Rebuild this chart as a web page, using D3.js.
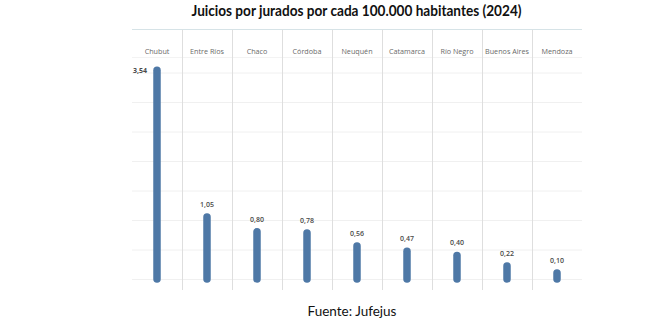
<!DOCTYPE html>
<html><head><meta charset="utf-8">
<script src="https://cdn.jsdelivr.net/npm/d3@7"></script>
<style>body{margin:0;background:#fff;} svg{display:block;}</style>
</head><body>
<svg id="chart" width="672" height="335"></svg>
<script>
const categories = ["Chubut","Entre Ríos","Chaco","Córdoba","Neuquén","Catamarca","Río Negro","Buenos Aires","Mendoza"];
const values = [3.54,1.05,0.80,0.78,0.56,0.47,0.40,0.22,0.10];
const gridTicks = [0,0.5,1,1.5,2,2.5,3,3.5];
const title = "Juicios por jurados por cada 100.000 habitantes (2024)";
const source = "Fuente: Jufejus";

(function(){
const svg = d3.select("#chart");
const left = 132, right = 582, topY = 29.5, headerY = 54, bottomLine = 290;
const x = d3.scaleBand().domain(categories).range([left, right]).padding(0);
const y = d3.scaleLinear().domain([0, 3.5]).range([279, 72.5]);
const fmt = d3.formatLocale({decimal: ",", thousands: ".", grouping: [3], currency: ["$",""]}).format(".2f");

// title
svg.append("text").attr("x", 356.5).attr("y", 16).attr("text-anchor","middle")
  .attr("font-family","Lato, 'Open Sans', sans-serif").attr("font-weight","bold").attr("font-size",14.5)
  .attr("fill","#111").attr("textLength",330).attr("lengthAdjust","spacingAndGlyphs").text(title);

// horizontal gridlines
const gAxis = svg.append("g").attr("transform", `translate(${left},0)`)
  .call(d3.axisLeft(y).tickValues(gridTicks).tickSize(-(right-left)).tickFormat(""));
gAxis.select(".domain").remove();
gAxis.selectAll(".tick line").attr("stroke","#f0f0f0").attr("stroke-width",1);

// top border line and header separator
svg.append("line").attr("x1",left).attr("x2",right).attr("y1",topY).attr("y2",topY)
  .attr("stroke","#d6e3e7").attr("stroke-width",1);
svg.append("line").attr("x1",left).attr("x2",right).attr("y1",57.5).attr("y2",57.5)
  .attr("stroke","#f3f3f3").attr("stroke-width",1);

// vertical dividers
svg.append("g").selectAll("line").data(categories.slice(1)).join("line")
  .attr("x1", d => Math.round(x(d)) + 0.5).attr("x2", d => Math.round(x(d)) + 0.5)
  .attr("y1", topY).attr("y2", bottomLine)
  .attr("stroke","#dedede").attr("stroke-width",1);

// header labels
svg.append("g").selectAll("text").data(categories).join("text")
  .attr("x", d => x(d) + x.bandwidth()/2).attr("y", headerY)
  .attr("text-anchor","middle").attr("font-family","'Open Sans', sans-serif")
  .attr("font-size",7.2).attr("fill","#6a6a6a").text(d => d);

// bars (rounded lines)
svg.append("g").selectAll("line").data(values).join("line")
  .attr("x1", (d,i) => x(categories[i]) + x.bandwidth()/2)
  .attr("x2", (d,i) => x(categories[i]) + x.bandwidth()/2)
  .attr("y1", y(0)).attr("y2", d => y(d))
  .attr("stroke","#4e78a6").attr("stroke-width",7.5).attr("stroke-linecap","round");

// value labels
svg.append("g").selectAll("text").data(values).join("text")
  .attr("x", (d,i) => i === 0 ? x(categories[i]) + 15 : x(categories[i]) + x.bandwidth()/2)
  .attr("y", (d,i) => i === 0 ? y(d) + 2.5 : y(d) - 10)
  .attr("text-anchor", (d,i) => i === 0 ? "end" : "middle")
  .attr("font-family","'Open Sans', sans-serif").attr("font-size",7)
  .attr("font-weight", (d,i) => i === 0 ? "bold" : "600")
  .attr("fill","#4a4a4a").text(d => fmt(d));

// source
svg.append("text").attr("x", 352).attr("y", 316).attr("text-anchor","middle")
  .attr("font-family","Lato, 'Open Sans', sans-serif").attr("font-size",13.5).attr("fill","#111")
  .text(source);
})();
</script>
</body></html>
